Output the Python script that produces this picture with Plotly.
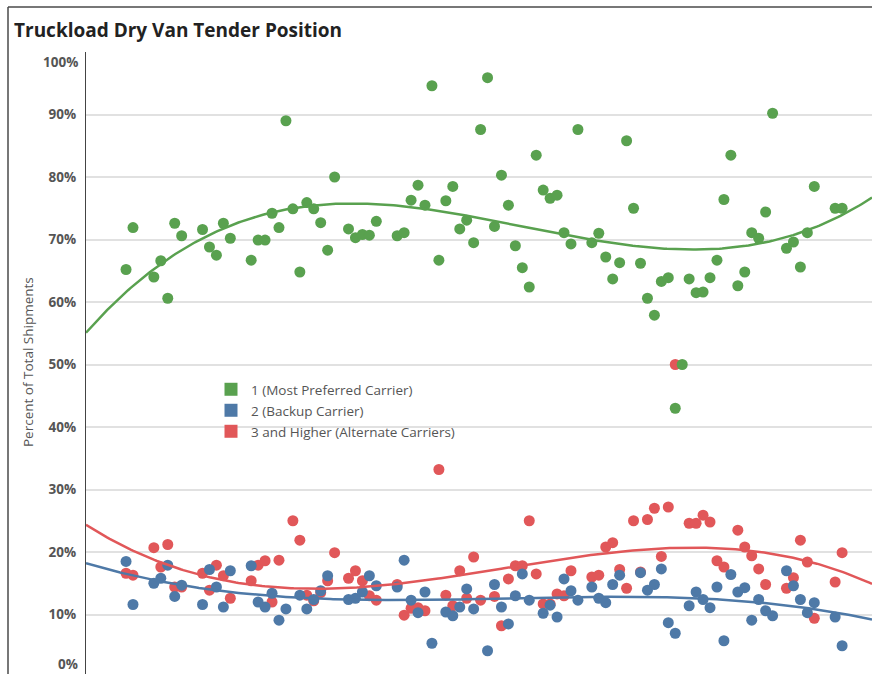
import numpy as np
import plotly.graph_objects as go

# Week index (x position of each tender week)
weeks = [0, 1, 4, 5, 6, 7, 8, 11, 12, 13, 14, 15, 18, 19, 20, 21, 22, 23, 24, 25,
         26, 27, 28, 29, 30, 32, 33, 34, 35, 36, 39, 40, 41, 42, 43, 44, 45, 46, 47, 48,
         49, 50, 51, 52, 53, 54, 55, 56, 57, 58, 59, 60, 61, 62, 63, 64, 65, 67, 68, 69,
         70, 71, 72, 73, 74, 75, 76, 77, 78, 79, 80, 81, 82, 83, 84, 85, 86, 87, 88, 89,
         90, 91, 92, 93, 95, 96, 97, 98, 99, 102, 103]

# 1 (Most Preferred Carrier), percent of total shipments
primary = [65.2, 71.9, 64.0, 66.6, 60.6, 72.6, 70.6, 71.6, 68.8, 67.5, 72.6, 70.2, 66.7, 69.9, 69.9, 74.2, 71.9, 89.0, 74.9, 64.8,
           75.9, 74.9, 72.7, 68.3, 80.0, 71.7, 70.3, 70.8, 70.7, 72.9, 70.6, 71.1, 76.3, 78.7, 75.5, 94.6, 66.7, 76.2, 78.5, 71.7,
           73.1, 69.5, 87.6, 95.9, 72.1, 80.3, 75.5, 69.0, 65.5, 62.4, 83.5, 77.9, 76.6, 77.1, 71.1, 69.3, 87.6, 69.5, 71.0, 67.2,
           63.7, 66.3, 85.8, 75.0, 66.2, 60.6, 57.9, 63.3, 63.9, 43.0, 50.0, 63.7, 61.5, 61.6, 63.9, 66.7, 76.4, 83.5, 62.6, 64.8,
           71.1, 70.2, 74.4, 90.2, 68.6, 69.6, 65.6, 71.1, 78.5, 75.0, 75.0]

# 2 (Backup Carrier)
backup = [18.5, 11.6, 15.0, 15.8, 17.9, 12.9, 14.7, 11.6, 17.2, 14.4, 11.2, 17.0, 17.8, 12.0, 11.2, 13.4, 9.1, 10.9, None, 13.1,
          10.9, 12.4, 13.8, 16.2, None, 12.4, 12.6, 13.6, 16.2, 14.6, 14.4, 18.7, 12.3, 10.3, 13.6, 5.4, None, 10.4, 9.8, 11.2,
          14.1, 10.9, None, 4.2, 14.8, 11.2, 8.5, 13.0, 16.5, 12.3, None, 10.2, 11.5, 9.6, 15.7, 13.8, 12.3, 14.4, 12.6, 11.9,
          14.8, 16.3, None, None, 16.7, 13.9, 14.8, 17.3, 8.7, 7.0, None, 11.4, 13.6, 12.4, 11.1, 14.4, 5.8, 16.4, 13.6, 14.3,
          9.1, 12.4, 10.6, 9.8, 17.0, 14.6, 12.4, 10.3, 11.9, 9.6, 5.0]

# 3 and Higher (Alternate Carriers)
alternate = [16.6, 16.3, 20.7, 17.6, 21.2, 14.4, 14.4, 16.6, 13.9, 17.9, 16.2, 12.6, 15.4, 17.9, 18.6, 12.0, 18.7, None, 25.0, 21.9,
             13.1, 12.2, 13.5, 15.4, 19.9, 15.8, 17.0, 15.4, 13.0, 12.3, 14.8, 9.9, 11.0, 11.1, 10.6, None, 33.2, 13.1, 11.4, 17.0,
             12.6, 19.2, 12.3, None, 12.9, 8.2, 15.7, 17.8, 17.8, 25.0, 16.5, 11.7, 11.7, 13.3, 13.0, 17.0, None, 16.0, 16.3, 20.8,
             21.5, 17.2, 14.2, 25.0, 16.8, 25.2, 27.0, 19.3, 27.2, 50.0, None, 24.6, 24.6, 25.9, 24.8, 18.6, 17.6, None, 23.5, 20.8,
             19.4, 17.3, 14.8, None, 14.2, 15.9, 21.9, 18.4, 9.4, 15.2, 19.9]

series_names = ["1 (Most Preferred Carrier)", "2 (Backup Carrier)", "3 and Higher (Alternate Carriers)"]
series_colors = ["#59A14F", "#4E79A7", "#E15759"]
y_tick_vals = [10, 20, 30, 40, 50, 60, 70, 80, 90, 100]
y_tick_text = ["10%", "20%", "30%", "40%", "50%", "60%", "70%", "80%", "90%", ""]

FONT = "Open Sans"
W, H = 872, 674
L, T = 86, 52
X_RANGE = [-5.76, 107.3]
Y_RANGE = [0.48, 100]

def py2paper(py):
    return (H - py) / (H - T)

def px2paper(px):
    return (px - L) / (W - L)

fig = go.Figure()

all_series = [primary, backup, alternate]
# draw order: alternate, backup, primary
for idx in [2, 1, 0]:
    vals = all_series[idx]
    fig.add_trace(go.Scatter(
        x=weeks, y=vals, mode="markers", name=series_names[idx],
        marker=dict(color=series_colors[idx], size=11, line=dict(width=0)),
        showlegend=False, hovertemplate="%{y:.1f}%<extra></extra>"))

# polynomial (degree 3) trend lines fitted to each series
xx = np.linspace(X_RANGE[0], X_RANGE[1], 300)
for idx in [2, 1, 0]:
    vals = all_series[idx]
    xs = np.array([w for w, v in zip(weeks, vals) if v is not None], dtype=float)
    ys = np.array([v for v in vals if v is not None], dtype=float)
    coef = np.polyfit(xs, ys, 3)
    fig.add_trace(go.Scatter(
        x=xx, y=np.polyval(coef, xx), mode="lines",
        line=dict(color=series_colors[idx], width=2.5),
        showlegend=False, hoverinfo="skip"))

# legend entries (square swatches), one legend per row for exact spacing
legend_rows_py = [389.5, 410.5, 431.5]
legend_keys = ["legend", "legend2", "legend3"]
for idx in range(3):
    fig.add_trace(go.Scatter(
        x=[None], y=[None], mode="markers", name=series_names[idx],
        marker=dict(color=series_colors[idx], size=13, symbol="square", line=dict(width=0)),
        legend=legend_keys[idx], showlegend=True))

legend_common = dict(
    xref="paper", yref="paper", xanchor="left", yanchor="middle",
    bgcolor="rgba(0,0,0,0)", borderwidth=0,
    font=dict(family=FONT, size=13.5, color="#555555"),
    itemclick=False, itemdoubleclick=False,
)
legend_layout = {}
for k, py in zip(legend_keys, legend_rows_py):
    legend_layout[k] = dict(legend_common, x=px2paper(211), y=py2paper(py))

# outer frame lines (top and left)
frame_color = "#4a4a4a"
shapes = [
    dict(type="line", xref="paper", yref="paper", x0=px2paper(8), x1=px2paper(W + 2),
         y0=py2paper(7), y1=py2paper(7), line=dict(color=frame_color, width=1.5)),
    dict(type="line", xref="paper", yref="paper", x0=px2paper(8), x1=px2paper(8),
         y0=py2paper(7), y1=py2paper(H + 2), line=dict(color=frame_color, width=1.5)),
]

tick_font = dict(family=FONT, size=13.5, color="#555555", weight="bold")
annotations = [
    dict(text="100%", xref="paper", yref="paper", x=0, y=py2paper(62), xanchor="right",
         yanchor="middle", xshift=-6, showarrow=False, font=tick_font),
    dict(text="0%", xref="paper", yref="paper", x=0, y=py2paper(664), xanchor="right",
         yanchor="middle", xshift=-6, showarrow=False, font=tick_font),
    dict(text="Percent of Total Shipments", xref="paper", yref="paper",
         x=px2paper(28), y=py2paper(362), xanchor="center", yanchor="middle",
         textangle=-90, showarrow=False,
         font=dict(family=FONT, size=13.5, color="#555555")),
]

fig.update_layout(
    width=W, height=H,
    margin=dict(l=L, r=0, t=T, b=0, pad=0),
    paper_bgcolor="white", plot_bgcolor="white",
    title=dict(text="Truckload Dry Van Tender Position", x=14 / W, y=1 - 30 / H,
               xref="container", yref="container", xanchor="left", yanchor="middle",
               font=dict(family=FONT, size=19, color="#222222", weight="bold")),
    xaxis=dict(visible=False, range=X_RANGE),
    yaxis=dict(range=Y_RANGE, tickmode="array", tickvals=y_tick_vals, ticktext=y_tick_text,
               showgrid=True, gridcolor="#e1e1e1", gridwidth=1.5,
               showline=True, linecolor="#444444", linewidth=1.2,
               ticks="", ticklabelstandoff=6, zeroline=False,
               tickfont=tick_font),
    shapes=shapes,
    annotations=annotations,
    **legend_layout,
)

fig.write_html(
    "out.html",
    config={"displayModeBar": False},
    post_script="document.body.style.margin='0';document.body.style.overflow='hidden';",
)
